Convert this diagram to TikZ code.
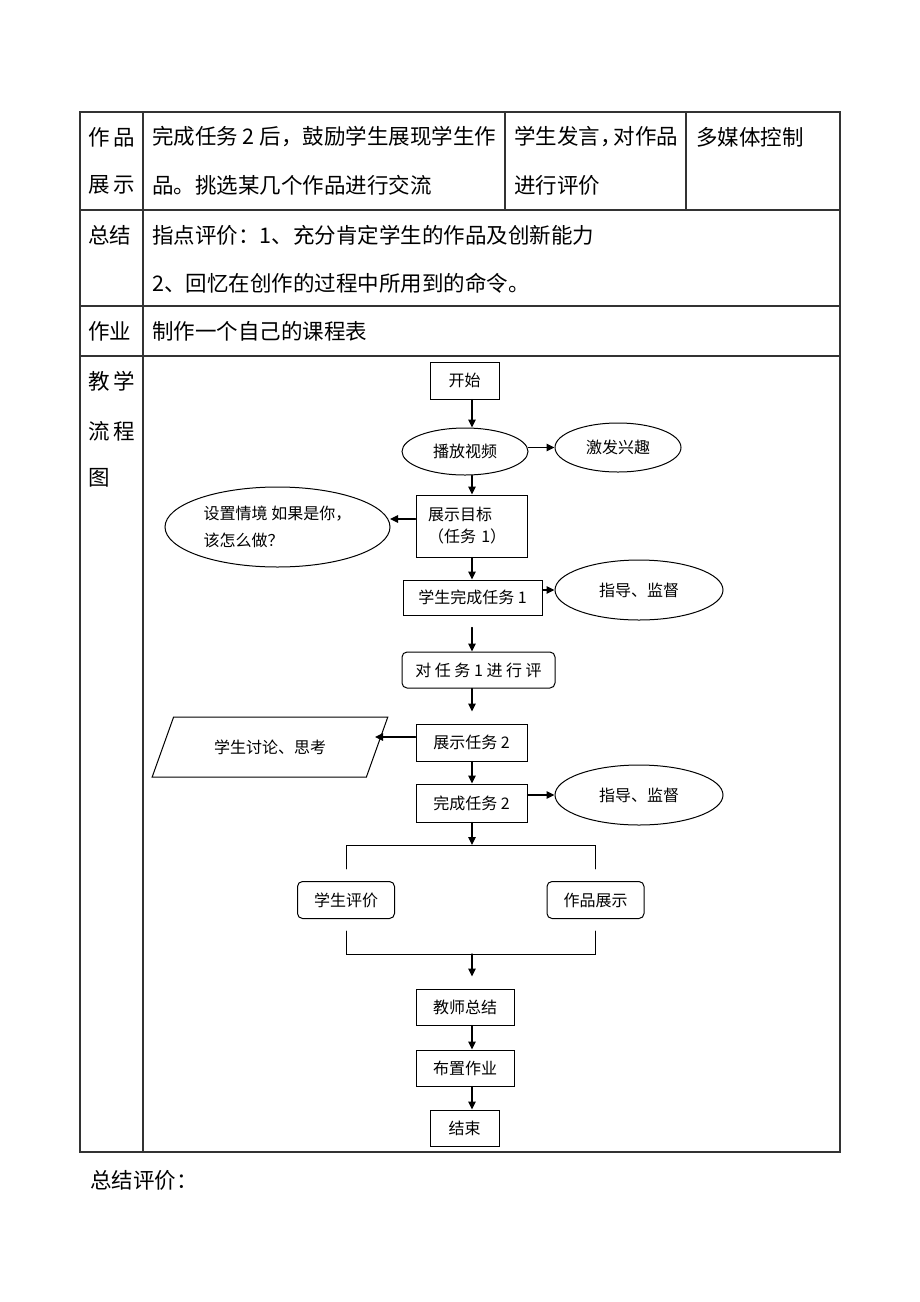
\documentclass[tikz,border=0pt]{standalone}
\usepackage{fontspec}
\setmainfont{Noto Sans CJK SC}
\usepackage{tikz}
\usetikzlibrary{arrows.meta,shapes,positioning}
\usetikzlibrary{calc}

\newcommand{\tabfont}{\fontsize{21.5}{26}\selectfont}
\newcommand{\flowfont}{\fontsize{16}{22}\selectfont}

\begin{document}
\begin{tikzpicture}[x=1pt,y=1pt,line cap=round,>={Triangle[length=8pt,width=7.5pt]},
        grid/.style={line width=1.3pt,black!80},
        cell/.style={anchor=west,inner sep=0pt,font=\tabfont},
        flowbox/.style={draw,line width=1pt,inner sep=0pt,font=\flowfont},
        flowround/.style={flowbox,rounded corners=5pt},
        flowoval/.style={flowbox,ellipse},
        flowline/.style={line width=0.8pt},
        flowarrow/.style={->,line width=1.1pt}]

            % --- Page ---
            \useasboundingbox (0,0) rectangle (920,-1302);

            % Table frame
            \draw[grid] (80,-112) rectangle (840,-1152);
            \draw[grid] (143,-112) -- (143,-1152);
            \foreach \y in {210,306,356} \draw[grid] (80,-\y) -- (840,-\y);
            \foreach \x in {505,686} \draw[grid] (\x,-112) -- (\x,-210);

            % Left column
            \node[cell] (labShowA) at (88,-137) {作\hspace{4pt}品};
            \node[cell] (labShowB) at (88,-185) {展\hspace{4pt}示};
            \node[cell] (labSum) at (88,-235) {总结};
            \node[cell] (labWork) at (88,-331) {作业};
            \node[cell] (labFlowA) at (88,-381) {教\hspace{4pt}学};
            \node[cell] (labFlowB) at (88,-431) {流\hspace{4pt}程};
            \node[cell] (labFlowC) at (88,-478) {图};

            % Cells
            \node[cell] (showA) at (152,-137) {完成任务 2 后，鼓励学生展现学生作};
            \node[cell] (showB) at (152,-185) {品。挑选某几个作品进行交流};
            \node[cell] (stuA) at (514,-137) {学生发言，\kern-8pt 对作品};
            \node[cell] (stuB) at (514,-185) {进行评价};
            \node[cell] (media) at (696,-137) {多媒体控制};
            \node[cell] (sumA) at (152,-235) {指点评价：1、充分肯定学生的作品及创新能力};
            \node[cell] (sumB) at (152,-283) {2、回忆在创作的过程中所用到的命令。};
            \node[cell] (work) at (152,-331) {制作一个自己的课程表};

            % --- Flow chart ---
            \coordinate (spine) at (472,0);

            \node[flowbox,minimum width=69pt,minimum height=37pt] (start) at (464.5,-380.5) {开始};
            \node[flowoval,minimum width=126pt,minimum height=47pt] (play) at (465,-451.5) {播放视频};
            \node[flowoval,minimum width=126pt,minimum height=49pt] (interest) at (618,-447.5) {激发兴趣};
            \node[flowbox,minimum width=111pt,minimum height=62pt,align=left,text width=87pt] (goal) at (471.5,-526) {展示目标\\（任务 1）};
            \node[flowoval,minimum width=225pt,minimum height=80pt,align=left] (scene) at (277.5,-527) {设置情境 如果是你，\\[5pt]该怎么做？};
            \node[flowbox,minimum width=139pt,minimum height=35pt] (task1) at (472.5,-597.5) {学生完成任务 1};
            \node[flowoval,minimum width=168pt,minimum height=60pt] (guide1) at (639,-590) {指导、监督};
            \node[flowround,minimum width=153pt,minimum height=36pt] (review1) at (478.5,-670) {对 任 务 1 进 行 评};
            \node[flowbox,minimum width=111pt,minimum height=37pt] (show2) at (471.5,-742.5) {展示任务 2};
            \node[flowbox,trapezium,trapezium left angle=50,trapezium right angle=130,trapezium stretches=true,
                  minimum width=236pt,minimum height=60pt] (discuss) at (270,-747) {学生讨论、思考};
            \node[flowbox,minimum width=111pt,minimum height=38pt] (task2) at (471.5,-803) {完成任务 2};
            \node[flowoval,minimum width=168pt,minimum height=60pt] (guide2) at (639,-795) {指导、监督};
            \node[flowround,minimum width=97pt,minimum height=37pt] (peer) at (346,-900) {学生评价};
            \node[flowround,minimum width=97pt,minimum height=37pt] (works) at (595.5,-900) {作品展示};
            \node[flowbox,minimum width=98pt,minimum height=36pt] (summary) at (465,-1007) {教师总结};
            \node[flowbox,minimum width=98pt,minimum height=36pt] (homework) at (465,-1068) {布置作业};
            \node[flowbox,minimum width=69pt,minimum height=36pt] (finish) at (464.5,-1128) {结束};

            % Main line
            \draw[flowarrow] (start.south -| spine) -- (play.north -| spine);
            \draw[flowarrow] (play.south -| spine) -- (goal.north -| spine);
            \draw[flowarrow] (goal.south -| spine) -- (task1.north -| spine);
            \draw[flowarrow] ($(task1.south -| spine)+(0,-12)$) -- (review1.north -| spine);
            \draw[flowarrow] (review1.south -| spine) -- ($(show2.north -| spine)+(0,12)$);
            \draw[flowarrow] (show2.south -| spine) -- (task2.north -| spine);

            % Side branches
            \coordinate (sceneIn) at (390,-519);
            \coordinate (discussIn) at (375,-737);
            \draw[flowarrow] (play.east |- interest.west) -- (interest.west);
            \draw[flowarrow] (goal.west |- sceneIn) -- (sceneIn);
            \draw[flowarrow] (task1.east |- guide1.west) -- (guide1.west);
            \draw[flowarrow] (show2.west |- discussIn) -- (discussIn);
            \draw[flowarrow] (task2.east |- guide2.west) -- (guide2.west);

            % Fork and join
            \coordinate (forkTop) at (472,-845);
            \coordinate (forkBot) at (472,-954);
            \draw[flowarrow] (task2.south -| spine) -- (forkTop);
            \draw[flowline] ([yshift=12pt]peer.north) |- (forkTop) -| ([yshift=12pt]works.north);
            \draw[flowline] ([yshift=-12pt]peer.south) |- (forkBot) -| ([yshift=-12pt]works.south);
            \draw[flowarrow] (forkBot) -- ($(summary.north -| spine)+(0,12)$);
            \draw[flowarrow] (summary.south -| spine) -- (homework.north -| spine);
            \draw[flowarrow] (homework.south -| spine) -- (finish.north -| spine);

            % Below the table
            \node[cell] (verdict) at (90,-1180) {总结评价：};

        \end{tikzpicture}
\end{document}
